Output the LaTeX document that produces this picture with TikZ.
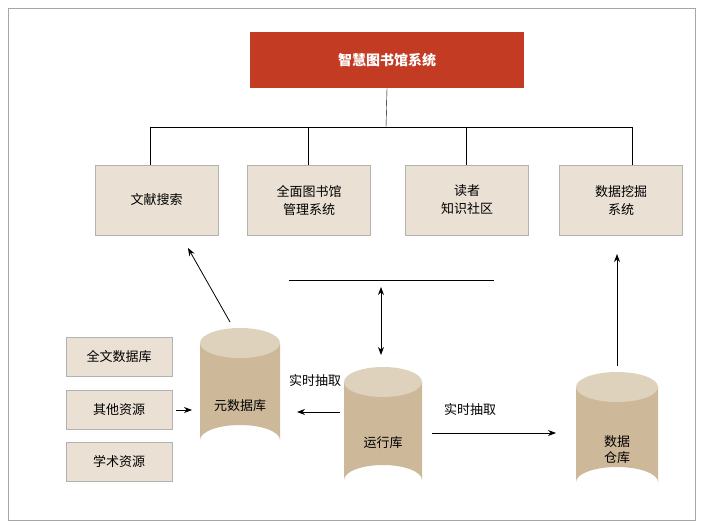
\documentclass[tikz,border=0pt]{standalone}
\usepackage{fontspec}
\setmainfont{Noto Sans CJK SC}
\usetikzlibrary{arrows.meta}
\definecolor{titlered}{HTML}{C23B22}
\definecolor{boxfill}{HTML}{EAE0D4}
\definecolor{cylbody}{HTML}{CDB899}
\definecolor{cyltop}{HTML}{DED2BD}
\begin{document}
\begin{tikzpicture}[x=1pt,y=-1pt,
  box/.style={draw=gray!60,fill=boxfill,minimum width=123pt,minimum height=70pt,align=center,font=\fontsize{13}{18}\selectfont},
  sbox/.style={draw=gray!60,fill=boxfill,minimum width=106pt,minimum height=39pt,font=\fontsize{13}{16}\selectfont},
  arr/.style={-{Stealth[length=8pt,width=6pt]},thick},
  lbl/.style={font=\fontsize{13}{16}\selectfont},
  line/.style={thin}]
\useasboundingbox (0,0) rectangle (703,526);
\fill[white] (0,0) rectangle (703,526);
\draw[gray!70] (8,8) rectangle (695,520);
\node[fill=titlered,minimum width=274pt,minimum height=56pt,text=white,font=\fontsize{14}{16}\selectfont\bfseries] (title) at (387,60) {智慧图书馆系统};
\node[box] (b1) at (156.5,200) {文献搜索};
\node[box] (b2) at (309,200) {全面图书馆\\管理系统};
\node[box] (b3) at (467,200) {读者\\知识社区};
\node[box] (b4) at (621,200) {数据挖掘\\系统};
\coordinate (j) at (386,127);
\draw[line] (title.south) -- (j);
\draw[line] (150,127) -- (632,127);
\foreach \x/\b in {150/b1,308/b2,466/b3,632/b4} \draw[line] (\x,127) -- (\x,165);
% cylinders
\newcommand{\mycyl}[5]{% name, cx, top, bottom, halfwidth
  \fill[cylbody] (#2-#5,#3) -- (#2-#5,#4) arc[start angle=180,end angle=360,x radius=#5,y radius=15] -- (#2+#5,#3) -- cycle;
  \fill[cyltop] (#2,#3) ellipse[x radius=#5,y radius=15];
  \node[inner sep=0,minimum width=2*#5,minimum height=#4-#3+30] (#1) at (#2,{(#3+#4)/2}) {};}
\mycyl{meta}{240}{343}{440}{40}
\mycyl{run}{383}{382}{480}{39}
\mycyl{dw}{617}{387}{482}{41}
\node[lbl] at (240,406) {元数据库};
\node[lbl] at (383,443) {运行库};
\node[lbl,align=center] at (617,450) {数据\\仓库};
\node[sbox] (s1) at (119,357) {全文数据库};
\node[sbox] (s2) at (119,410) {其他资源};
\node[sbox] (s3) at (119,462) {学术资源};
\coordinate (hl) at (289,280); \coordinate (hr) at (494,280);
\draw[line] (hl) -- (hr);
\draw[{Stealth[length=8pt,width=6pt]}-{Stealth[length=8pt,width=6pt]},thick] (381,287) -- (381,355);
\draw[arr] (230,322) -- (188,248);
\draw[arr] (340,412) -- (297,412);
\node[lbl] at (315,381) {实时抽取};
\draw[arr] (432,433) -- (556,433);
\node[lbl] at (470,410) {实时抽取};
\draw[arr] (617,366) -- (617,254);
\draw[arr] (176,410) -- (192,410);
\end{tikzpicture}
\end{document}
